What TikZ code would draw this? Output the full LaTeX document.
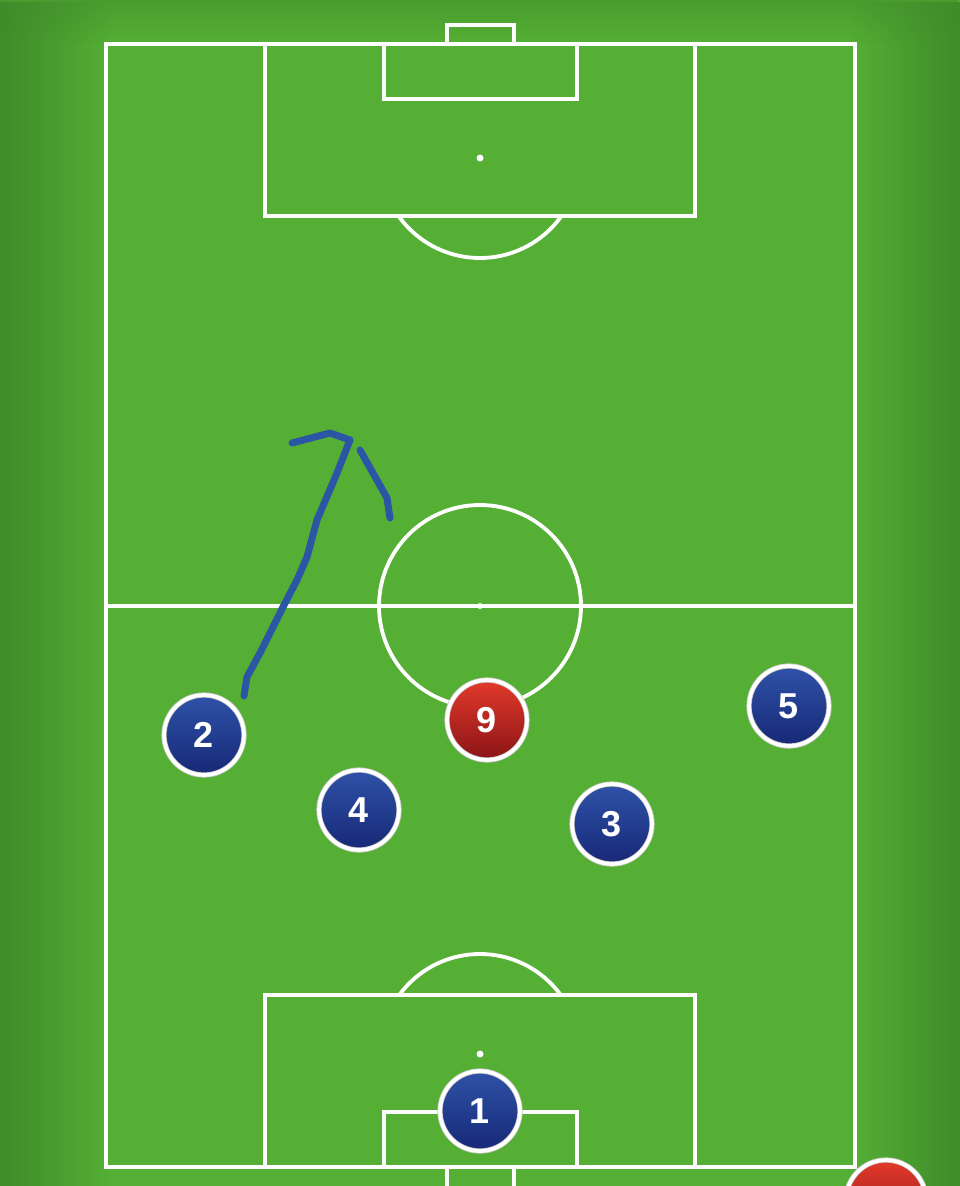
\documentclass[tikz,border=0pt]{standalone}
\usepackage{fontspec}
\setmainfont{Liberation Sans}
\usetikzlibrary{fadings}

\definecolor{grass}{HTML}{55AF34}
\definecolor{grassdark}{HTML}{3E8C2A}
\definecolor{homeblue}{HTML}{2F52A8}
\definecolor{homebluedark}{HTML}{172876}
\definecolor{awayred}{HTML}{E33A2B}
\definecolor{awayreddark}{HTML}{8A1416}
\definecolor{pen}{HTML}{2B56A6}

\tikzfading[name=fadeleft, left color=transparent!0, right color=transparent!100]
\tikzfading[name=faderight, left color=transparent!100, right color=transparent!0]
\tikzfading[name=fadetop, top color=transparent!0, bottom color=transparent!100]

\tikzset{
  pitchline/.style={white, line width=3.8pt},
  penline/.style={pen, line width=7pt, line cap=round, line join=round},
  token/.style={circle, minimum size=80pt, inner sep=0pt, draw=gray!40,
    line width=0.8pt, double=white, double distance=3.6pt, text=white,
    font=\bfseries\fontsize{36}{36}\selectfont},
  homeplayer/.style={token, top color=homeblue, bottom color=homebluedark},
  awayplayer/.style={token, top color=awayred, bottom color=awayreddark}
}

\begin{document}
\begin{tikzpicture}[x=1pt, y=-1pt]

\useasboundingbox (0,0) rectangle (960,1186);
\clip (0,0) rectangle (960,1186);

% grass
\fill[grass] (0,0) rectangle (960,1186);
\fill[grassdark, path fading=fadetop, fill opacity=0.5] (0,0) rectangle (960,45);
\fill[grassdark, path fading=fadeleft] (0,0) rectangle (110,1186);
\fill[grassdark, path fading=faderight] (850,0) rectangle (960,1186);

% outer lines and half way
\draw[pitchline] (106,44) rectangle (855,1167);
\draw[pitchline] (106,606) -- (855,606);
\draw[pitchline] (480,606) circle (101);
\fill[white] (480,606) circle (3);

% top end
\draw[pitchline] (265,44) rectangle (695,216);
\draw[pitchline] (384,44) rectangle (577,99);
\draw[pitchline] (447,44) -- (447,25) -- (514,25) -- (514,44);
\fill[white] (480,158) circle (3.5);
\begin{scope}
  \clip (0,217) rectangle (960,300);
  \draw[pitchline] (480,158) circle (100);
\end{scope}

% bottom end
\draw[pitchline] (265,995) rectangle (695,1167);
\draw[pitchline] (384,1112) rectangle (577,1167);
\draw[pitchline] (447,1167) -- (447,1190) -- (514,1190) -- (514,1167);
\fill[white] (480,1054) circle (3.5);
\begin{scope}
  \clip (0,900) rectangle (960,994);
  \draw[pitchline] (480,1054) circle (100);
\end{scope}

% run of number 2
\draw[penline]
  (244,696) -- (247,677) -- (260,653) -- (283,607) -- (297,580) -- (307,557)
  -- (317,520) -- (337,473) -- (350,440);
\draw[penline] (292,443) -- (330,433) -- (350,440);
\draw[penline] (360,450) -- (387,498) -- (390,518);

% players
\node[homeplayer] (p1) at (480,1111) {1};
\node[homeplayer] (p2) at (204,735) {2};
\node[homeplayer] (p3) at (612,824) {3};
\node[homeplayer] (p4) at (359,810) {4};
\node[homeplayer] (p5) at (789,706) {5};
\node[awayplayer] (p9) at (487,720) {9};
\node[awayplayer] (opp) at (886,1200) {};

\end{tikzpicture}
\end{document}
